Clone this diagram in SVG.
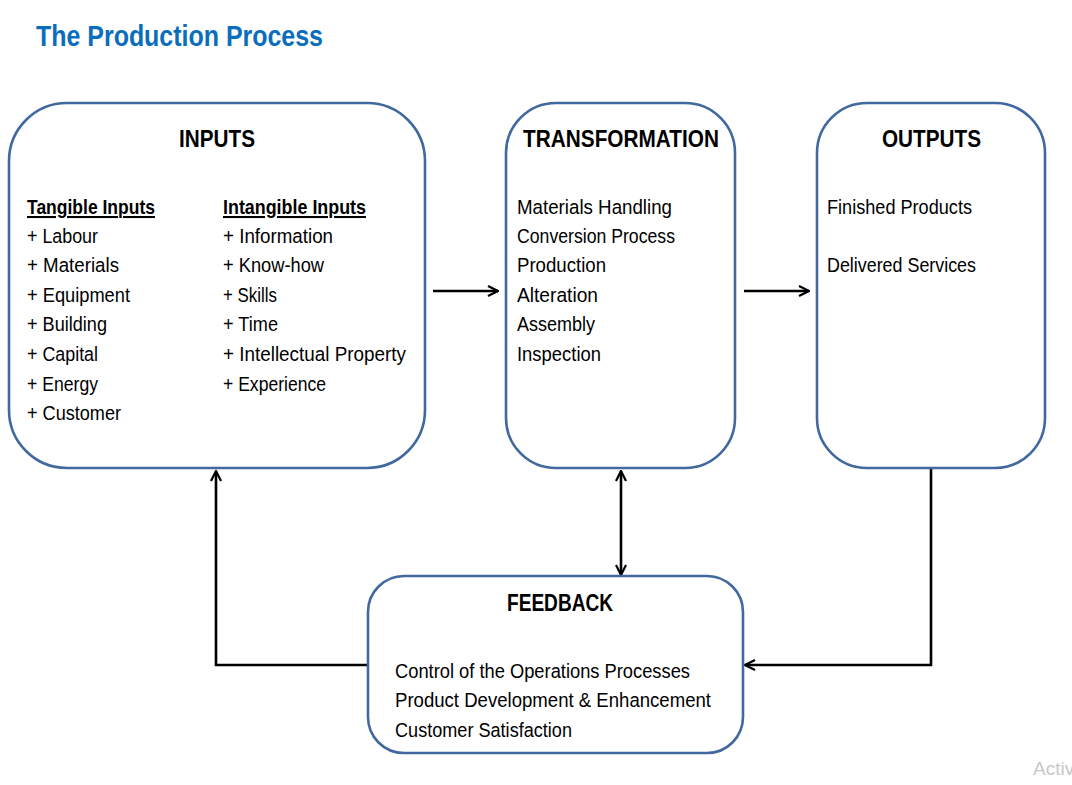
<svg xmlns="http://www.w3.org/2000/svg" width="1072" height="785" viewBox="0 0 1072 785">
<defs>
<style>
.box{fill:#fff;stroke:#41689F;stroke-width:2.6}
.t{font-family:"Liberation Sans",Arial,sans-serif;font-size:20.5px;fill:#000}
.h{font-family:"Liberation Sans",Arial,sans-serif;font-size:24px;font-weight:bold;fill:#000}
.u{text-decoration:underline;font-weight:bold}
.c{fill:none;stroke:#000;stroke-width:2.6}
</style>
<marker id="ah" viewBox="0 0 12 12" refX="11" refY="6" markerWidth="12" markerHeight="12" markerUnits="userSpaceOnUse" orient="auto-start-reverse">
<path d="M1,1 L11,6 L1,11" fill="none" stroke="#000" stroke-width="2.2"/>
</marker>
</defs>
<rect width="1072" height="785" fill="#fff"/>
<text x="36" y="46" font-family="Liberation Sans,Arial,sans-serif" font-size="30" font-weight="bold" fill="#0A6EBD" textLength="287" lengthAdjust="spacingAndGlyphs">The Production Process</text>

<g id="connectors">
<line class="c" x1="433" y1="291" x2="498" y2="291" marker-end="url(#ah)"/>
<line class="c" x1="744" y1="291" x2="809" y2="291" marker-end="url(#ah)"/>
<line class="c" x1="621" y1="471" x2="621" y2="575" marker-start="url(#ah)" marker-end="url(#ah)"/>
<polyline class="c" points="931,468 931,665 745,665" marker-end="url(#ah)"/>
<polyline class="c" points="368,665 216,665 216,471" marker-end="url(#ah)"/>
</g>

<g id="inputs">
<rect class="box" x="9" y="103" width="416" height="365" rx="58"/>
<text class="h" x="179" y="147" textLength="76" lengthAdjust="spacingAndGlyphs">INPUTS</text>
<text class="t u" x="27" y="214" textLength="128" lengthAdjust="spacingAndGlyphs">Tangible Inputs</text>
<text class="t" x="27" y="243" textLength="71" lengthAdjust="spacingAndGlyphs">+ Labour</text>
<text class="t" x="27" y="272" textLength="92" lengthAdjust="spacingAndGlyphs">+ Materials</text>
<text class="t" x="27" y="302" textLength="103" lengthAdjust="spacingAndGlyphs">+ Equipment</text>
<text class="t" x="27" y="331" textLength="80" lengthAdjust="spacingAndGlyphs">+ Building</text>
<text class="t" x="27" y="361" textLength="71" lengthAdjust="spacingAndGlyphs">+ Capital</text>
<text class="t" x="27" y="391" textLength="71" lengthAdjust="spacingAndGlyphs">+ Energy</text>
<text class="t" x="27" y="420" textLength="94" lengthAdjust="spacingAndGlyphs">+ Customer</text>
<text class="t u" x="223" y="214" textLength="143" lengthAdjust="spacingAndGlyphs">Intangible Inputs</text>
<text class="t" x="223" y="243" textLength="110" lengthAdjust="spacingAndGlyphs">+ Information</text>
<text class="t" x="223" y="272" textLength="101" lengthAdjust="spacingAndGlyphs">+ Know-how</text>
<text class="t" x="223" y="302" textLength="54" lengthAdjust="spacingAndGlyphs">+ Skills</text>
<text class="t" x="223" y="331" textLength="55" lengthAdjust="spacingAndGlyphs">+ Time</text>
<text class="t" x="223" y="361" textLength="183" lengthAdjust="spacingAndGlyphs">+ Intellectual Property</text>
<text class="t" x="223" y="391" textLength="103" lengthAdjust="spacingAndGlyphs">+ Experience</text>
</g>

<g id="transformation">
<rect class="box" x="506" y="103" width="229" height="365" rx="50"/>
<text class="h" x="523" y="147" textLength="196" lengthAdjust="spacingAndGlyphs">TRANSFORMATION</text>
<text class="t" x="517" y="214" textLength="155" lengthAdjust="spacingAndGlyphs">Materials Handling</text>
<text class="t" x="517" y="243" textLength="158" lengthAdjust="spacingAndGlyphs">Conversion Process</text>
<text class="t" x="517" y="272" textLength="89" lengthAdjust="spacingAndGlyphs">Production</text>
<text class="t" x="517" y="302" textLength="81" lengthAdjust="spacingAndGlyphs">Alteration</text>
<text class="t" x="517" y="331" textLength="78" lengthAdjust="spacingAndGlyphs">Assembly</text>
<text class="t" x="517" y="361" textLength="84" lengthAdjust="spacingAndGlyphs">Inspection</text>
</g>

<g id="outputs">
<rect class="box" x="817" y="103" width="228" height="365" rx="50"/>
<text class="h" x="882" y="147" textLength="99" lengthAdjust="spacingAndGlyphs">OUTPUTS</text>
<text class="t" x="827" y="214" textLength="145" lengthAdjust="spacingAndGlyphs">Finished Products</text>
<text class="t" x="827" y="272" textLength="149" lengthAdjust="spacingAndGlyphs">Delivered Services</text>
</g>

<g id="feedback">
<rect class="box" x="368" y="576" width="375" height="177" rx="36"/>
<text class="h" x="507" y="611" textLength="106" lengthAdjust="spacingAndGlyphs">FEEDBACK</text>
<text class="t" x="395" y="678" textLength="295" lengthAdjust="spacingAndGlyphs">Control of the Operations Processes</text>
<text class="t" x="395" y="707" textLength="316" lengthAdjust="spacingAndGlyphs">Product Development &amp; Enhancement</text>
<text class="t" x="395" y="737" textLength="177" lengthAdjust="spacingAndGlyphs">Customer Satisfaction</text>
</g>

<text x="1033" y="775" font-family="Liberation Sans,Arial,sans-serif" font-size="19" fill="#c8c8c8">Activ</text>
</svg>
